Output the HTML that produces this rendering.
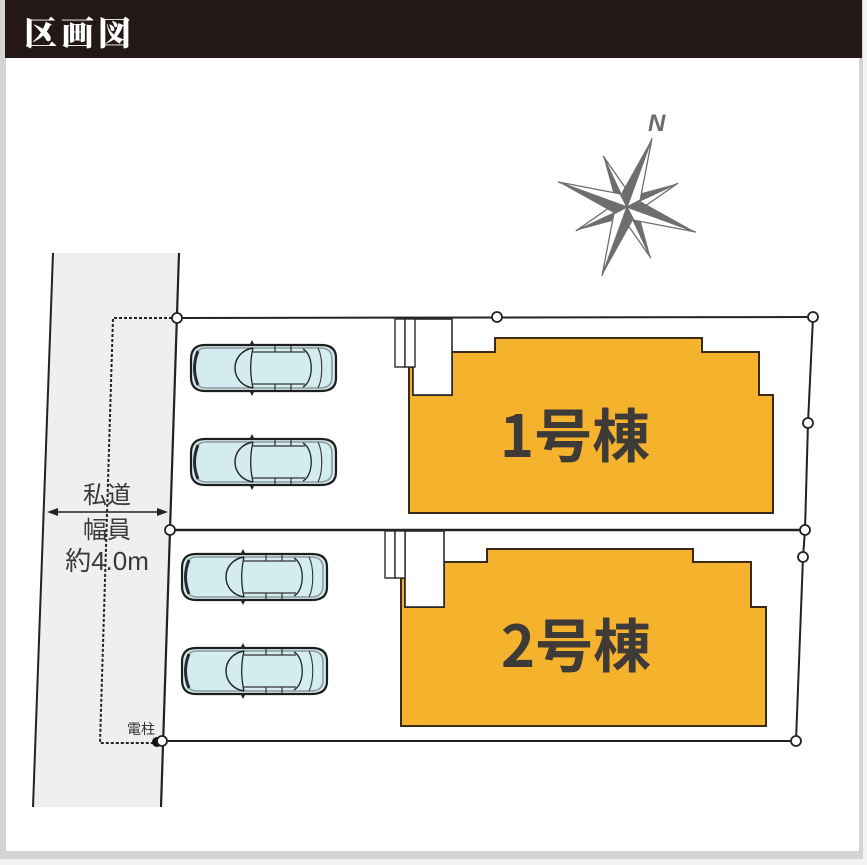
<!DOCTYPE html>
<html><head><meta charset="utf-8"><style>
html,body{margin:0;padding:0;background:#f2f2f2;}
svg{display:block;}
</style></head><body>
<svg width="867" height="865" viewBox="0 0 867 865" xmlns="http://www.w3.org/2000/svg">
<defs>
<g id="car">
  <path d="M14,2 H130 Q145,2 145,15 V35 Q145,48 130,48 H14 Q0,48 0,34 V16 Q0,2 14,2 Z" fill="#d3ecf0" stroke="#1e1e1e" stroke-width="2.2"/>
  <path d="M15,5 H129 Q141,5 141,16 V34 Q141,45 129,45 H15 Q4,45 4,33 V17 Q4,5 15,5 Z" fill="none" stroke="#8d9a9c" stroke-width="1.6"/>
  <path d="M7,8 Q0,25 7,42" fill="none" stroke="#2a2a2a" stroke-width="3"/>
  <path d="M62,5 C38,9 38,41 62,45" fill="none" stroke="#222" stroke-width="1.4"/>
  <path d="M62,5 C59,18 59,32 62,45" fill="none" stroke="#222" stroke-width="1.3"/>
  <path d="M62,9 H114 M62,41 H114" stroke="#333" stroke-width="1.3" fill="none"/>
  <path d="M84,3 V9 M84,41 V47 M100,3 V9 M100,41 V47" stroke="#333" stroke-width="1.2"/>
  <path d="M112,6 C123,12 123,38 112,44" fill="none" stroke="#222" stroke-width="1.3"/>
  <path d="M127,5 C132,15 132,35 127,45" fill="none" stroke="#333" stroke-width="1.1"/>
  <path d="M58,3 L61,-3 L64,3 Z M58,47 L61,53 L64,47 Z" fill="#222"/>
</g>
<g id="mainpt">
  <polygon points="0,0 0,-73 -10,-11" fill="#6e6e6e"/>
  <polygon points="0,0 0,-73 10,-11" fill="#ffffff" stroke="#6e6e6e" stroke-width="1.3" stroke-linejoin="round"/>
</g>
<g id="minpt">
  <polygon points="0,0 0,-56 -8,-10" fill="#6e6e6e"/>
  <polygon points="0,0 0,-56 8,-10" fill="#ffffff" stroke="#6e6e6e" stroke-width="1.3" stroke-linejoin="round"/>
</g>
</defs>

<!-- frame -->
<rect x="0" y="0" width="863" height="859" fill="#d4d4d4"/>
<rect x="6" y="58" width="853" height="793" fill="#ffffff"/>
<rect x="5" y="0" width="857" height="58" fill="#231815"/>
<text x="24" y="45" font-family="'Noto Serif CJK SC','Noto Sans CJK JP',serif" font-weight="900" font-size="33" fill="#ffffff" letter-spacing="4">区画図</text>

<!-- compass -->
<g transform="translate(627,207) rotate(20)">
  <use href="#minpt" transform="rotate(45)"/>
  <use href="#minpt" transform="rotate(135)"/>
  <use href="#minpt" transform="rotate(225)"/>
  <use href="#minpt" transform="rotate(315)"/>
  <use href="#mainpt"/>
  <use href="#mainpt" transform="rotate(90)"/>
  <use href="#mainpt" transform="rotate(180)"/>
  <use href="#mainpt" transform="rotate(270)"/>
</g>
<text x="648" y="131" font-family="'Liberation Sans',sans-serif" font-style="italic" font-weight="bold" font-size="24" fill="#6b6b6b">N</text>

<!-- road -->
<polygon points="53,253 179,253 161,807 33,807" fill="#efefef"/>
<line x1="53" y1="253" x2="33" y2="807" stroke="#222" stroke-width="2"/>
<line x1="179" y1="253" x2="161" y2="807" stroke="#222" stroke-width="2.2"/>

<!-- dotted -->
<polyline points="177,318 113,318 100,743 155,743" fill="none" stroke="#222" stroke-width="2" stroke-dasharray="3,2"/>

<!-- arrow -->
<line x1="52" y1="512" x2="163" y2="512" stroke="#222" stroke-width="1.5"/>
<polygon points="47,512 58,508 58,516" fill="#222"/>
<polygon points="168,512 157,508 157,516" fill="#222"/>

<g font-family="'Liberation Sans','Noto Sans CJK JP',sans-serif" fill="#3a3a3a" text-anchor="middle">
  <text x="107" y="503" font-size="24">私道</text>
  <text x="107" y="538" font-size="24">幅員</text>
  <text x="107" y="570" font-size="26">約4.0m</text>
</g>
<text x="155" y="734" font-family="'Liberation Sans','Noto Sans CJK JP',sans-serif" font-size="14" fill="#333" text-anchor="end">電柱</text>

<!-- lot lines -->
<g stroke="#222" fill="none" stroke-width="2">
  <line x1="177" y1="318" x2="813" y2="317"/>
  <polyline points="813,317 808,423 805,530"/>
  <line x1="170" y1="530" x2="805" y2="530" stroke-width="2.6"/>
  <polyline points="805,530 803,557 796,741"/>
  <line x1="162" y1="741" x2="796" y2="741"/>
</g>

<!-- buildings -->
<polygon points="409,367 413,367 413,395 452,395 452,352 495,352 495,338 702,338 702,352 759,352 759,395 773,395 773,513 409,513" fill="#f5b22d" stroke="#3b2a1a" stroke-width="2"/>
<rect x="413" y="319" width="39" height="76" fill="#fff" stroke="#2a2a2a" stroke-width="1.6"/>
<rect x="395" y="319" width="10" height="48" fill="#fff" stroke="#2a2a2a" stroke-width="1.4"/>
<rect x="405" y="319" width="10" height="48" fill="#fff" stroke="#2a2a2a" stroke-width="1.4"/>
<text x="575" y="457" font-family="'Noto Sans CJK JP',sans-serif" font-weight="bold" font-size="58" fill="#3d3a37" text-anchor="middle">1号棟</text>

<polygon points="401,578 405,578 405,607 444,607 444,562 487,562 487,549 693,549 693,562 751,562 751,607 766,607 766,726 401,726" fill="#f5b22d" stroke="#3b2a1a" stroke-width="2"/>
<rect x="405" y="531" width="39" height="76" fill="#fff" stroke="#2a2a2a" stroke-width="1.6"/>
<rect x="385" y="531" width="10" height="47" fill="#fff" stroke="#2a2a2a" stroke-width="1.4"/>
<rect x="395" y="531" width="10" height="47" fill="#fff" stroke="#2a2a2a" stroke-width="1.4"/>
<text x="576" y="667" font-family="'Noto Sans CJK JP',sans-serif" font-weight="bold" font-size="58" fill="#3d3a37" text-anchor="middle">2号棟</text>

<!-- cars -->
<use href="#car" transform="translate(191,343)"/>
<use href="#car" transform="translate(191,437)"/>
<use href="#car" transform="translate(182,552)"/>
<use href="#car" transform="translate(182,646)"/>

<!-- pole dot -->
<circle cx="157" cy="742" r="5" fill="#111"/>

<!-- circles -->
<g fill="#fff" stroke="#222" stroke-width="1.8">
  <circle cx="177" cy="318" r="5"/>
  <circle cx="497" cy="317" r="5"/>
  <circle cx="813" cy="317" r="5"/>
  <circle cx="808" cy="423" r="5"/>
  <circle cx="805" cy="530" r="5"/>
  <circle cx="170" cy="530" r="5"/>
  <circle cx="803" cy="557" r="5"/>
  <circle cx="162" cy="741" r="5"/>
  <circle cx="796" cy="741" r="5"/>
</g>
</svg>
</body></html>
